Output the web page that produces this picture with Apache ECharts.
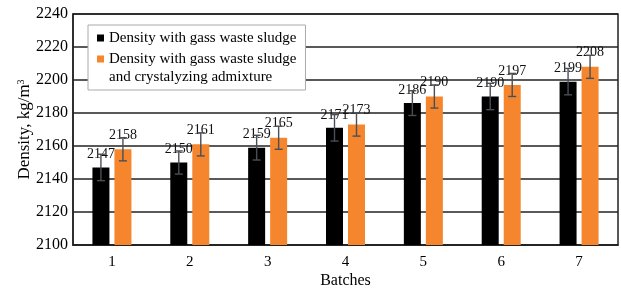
<!DOCTYPE html>
<html>
<head>
<meta charset="utf-8">
<script src="https://cdn.jsdelivr.net/npm/echarts@6/dist/echarts.min.js"></script>
<style>html,body{margin:0;padding:0;background:#fff;}#c{width:621px;height:288px;}</style>
</head>
<body>
<div id="c"></div>
<script>
const categories = ['1', '2', '3', '4', '5', '6', '7'];
const seriesNames = ['Density with gass waste sludge', 'Density with gass waste sludge and crystalyzing admixture'];
const densityWaste = [2147, 2150, 2159, 2171, 2186, 2190, 2199];
const densityAdmix = [2158, 2161, 2165, 2173, 2190, 2197, 2208];
const errorWaste = [8, 7, 7.5, 8, 7.5, 8, 8];
const errorAdmix = [7, 7, 7, 7, 7, 7, 7];
const yTicks = { min: 2100, max: 2240, interval: 20 };

const FONT = '"Liberation Serif", "Times New Roman", serif';
const BAR_W = 17;
const GAP = 5;
const OFF = (BAR_W + GAP) / 2;

function errData(vals, errs) {
  return vals.map((v, i) => [i, v - errs[i], v + errs[i]]);
}
function errSeries(vals, errs, offset) {
  return {
    type: 'custom',
    data: errData(vals, errs),
    z: 5,
    silent: true,
    renderItem: function (params, api) {
      const x = api.value(0);
      const lo = api.coord([x, api.value(1)]);
      const hi = api.coord([x, api.value(2)]);
      const cx = lo[0] + offset;
      const cap = 4;
      const st = { stroke: '#4a4f55', lineWidth: 1.4 };
      return {
        type: 'group',
        children: [
          { type: 'line', shape: { x1: cx, y1: hi[1], x2: cx, y2: lo[1] }, style: st },
          { type: 'line', shape: { x1: cx - cap, y1: hi[1], x2: cx + cap, y2: hi[1] }, style: st },
          { type: 'line', shape: { x1: cx - cap, y1: lo[1], x2: cx + cap, y2: lo[1] }, style: st }
        ]
      };
    }
  };
}

const chart = echarts.init(document.getElementById('c'), null, { renderer: 'canvas' });
chart.setOption({
  animation: false,
  textStyle: { fontFamily: FONT },
  grid: { left: 73, right: 3, top: 14, bottom: 43, outerBoundsMode: 'none', containLabel: false, show: true, borderColor: '#222', borderWidth: 1.5 },
  legend: {
    left: 88, top: 25,
    orient: 'vertical',
    backgroundColor: '#fff',
    borderColor: '#aaa',
    borderWidth: 1,
    padding: [4, 9, 4, 9],
    itemWidth: 7, itemHeight: 7,
    itemGap: -15,
    icon: 'rect',
    textStyle: { fontFamily: FONT, fontSize: 15, color: '#000', lineHeight: 18 },
    formatter: function (name) {
      return name === seriesNames[1] ? '\nDensity with gass waste sludge\nand crystalyzing admixture' : name;
    },
    data: [seriesNames[0], seriesNames[1]]
  },
  xAxis: {
    type: 'category',
    data: categories,
    name: 'Batches',
    nameLocation: 'middle',
    nameGap: 28,
    nameMoveOverlap: false,
    nameTextStyle: { fontFamily: FONT, fontSize: 16, color: '#000' },
    axisLine: { lineStyle: { color: '#222', width: 1.5 } },
    axisTick: { show: false },
    axisLabel: { fontFamily: FONT, fontSize: 15, color: '#000', margin: 10 }
  },
  yAxis: {
    type: 'value',
    min: yTicks.min, max: yTicks.max, interval: yTicks.interval,
    name: '{a|Density, kg/m}{s|3}',
    nameLocation: 'middle',
    nameGap: 39,
    nameMoveOverlap: false,
    nameTextStyle: {
      fontFamily: FONT, fontSize: 17, color: '#000',
      rich: {
        a: { fontFamily: FONT, fontSize: 17, color: '#000' },
        s: { fontFamily: FONT, fontSize: 10, color: '#000', verticalAlign: 'top', padding: [0, 0, 8, 0] }
      }
    },
    axisLine: { show: true, lineStyle: { color: '#222', width: 1.5 } },
    axisTick: { show: false },
    splitLine: { lineStyle: { color: '#222', width: 1.5 } },
    axisLabel: { fontFamily: FONT, fontSize: 16, color: '#000', margin: 5, formatter: function (v) { return String(v); } }
  },
  series: [
    {
      name: seriesNames[0], type: 'bar', data: densityWaste,
      barWidth: BAR_W, barGap: (GAP / BAR_W * 100) + '%',
      itemStyle: { color: '#000' },
      label: { show: true, position: 'top', distance: 6, fontFamily: FONT, fontSize: 14, color: '#111' }
    },
    {
      name: seriesNames[1], type: 'bar', data: densityAdmix,
      barWidth: BAR_W,
      itemStyle: { color: '#F5862E' },
      label: { show: true, position: 'top', distance: 7, fontFamily: FONT, fontSize: 14, color: '#111' }
    },
    errSeries(densityWaste, errorWaste, -OFF),
    errSeries(densityAdmix, errorAdmix, OFF)
  ]
});
</script>
</body>
</html>
